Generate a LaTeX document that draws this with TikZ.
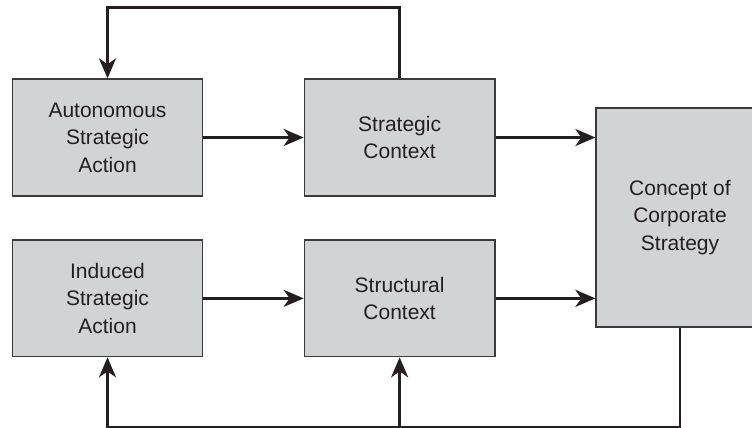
\documentclass[tikz,border=0pt]{standalone}
\usepackage{fontspec}
\setmainfont{Liberation Sans}
\usetikzlibrary{arrows.meta}
\definecolor{boxfill}{RGB}{210,211,213}
\definecolor{ink}{RGB}{35,31,32}
\definecolor{edge}{RGB}{60,58,60}
\begin{document}
\begin{tikzpicture}[x=1pt,y=-1pt,
  box/.style={draw=edge,fill=boxfill,line width=1.3pt,rectangle,inner sep=0pt,
    align=center,text=ink,font=\fontsize{21}{27.5}\selectfont},
  conn/.style={draw=ink,line width=2.6pt},
  arr/.style={conn,-{Stealth[length=20pt,width=17pt,inset=6pt]}}]
\useasboundingbox (0,0) rectangle (752,428);
\clip (0,0) rectangle (752,428);
\node[box,minimum width=190.4pt,minimum height=117pt] (asa) at (107.5,137.5) {Autonomous\\Strategic\\Action};
\node[box,minimum width=190.7pt,minimum height=117pt] (sc) at (399.65,137.5) {Strategic\\Context};
\node[box,minimum width=190.4pt,minimum height=116.7pt] (isa) at (107.5,298.35) {Induced\\Strategic\\Action};
\node[box,minimum width=190.7pt,minimum height=116.7pt] (stc) at (399.65,298.35) {Structural\\Context};
\node[box,minimum width=168pt,minimum height=219pt] (ccs) at (680,217.5) {Concept of\\Corporate\\Strategy};
\coordinate (t1) at (sc.north |- 0,7.3);
\coordinate (b1) at (ccs.south |- 0,427);
\coordinate (b2) at (stc.south |- b1);
\draw[arr] (asa.east) -- (sc.west);
\draw[arr] (isa.east) -- (stc.west);
\draw[arr] (sc.east) -- (sc.east -| ccs.west);
\draw[arr] (stc.east) -- (stc.east -| ccs.west);
\draw[arr] (sc.north) -- (t1) -| (asa.north);
\draw[arr] (ccs.south) -- (b1) -| (isa.south);
\draw[arr] (b2) -- (stc.south);
\end{tikzpicture}
\end{document}
